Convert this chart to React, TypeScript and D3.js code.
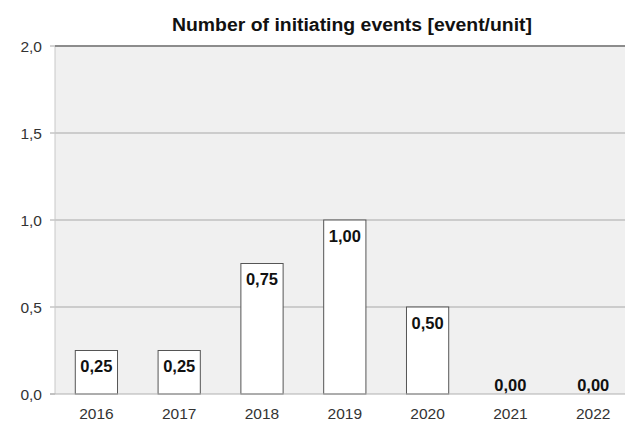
import React from "react";
import * as d3 from "d3";

const categories = ["2016", "2017", "2018", "2019", "2020", "2021", "2022"];
const values = [0.25, 0.25, 0.75, 1.0, 0.5, 0.0, 0.0];
const yTicks = [0, 0.5, 1.0, 1.5, 2.0];
const title = "Number of initiating events [event/unit]";

const W = 625;
const H = 421;
const M = { left: 55, top: 46, bottom: 394, right: 634.6 };

const fmt = (v: number, d: number) => v.toFixed(d).replace(".", ",");

export default function App() {
  const x = d3
    .scaleBand<string>()
    .domain(categories)
    .range([M.left, M.right])
    .paddingInner(0.49)
    .paddingOuter(0.245);
  const y = d3.scaleLinear().domain([0, 2]).range([M.bottom, M.top]);
  const font = "'Liberation Sans', Arial, sans-serif";

  return (
    <svg
      width={W}
      height={H}
      style={{ position: "absolute", left: 0, top: 0, background: "#fff" }}
      fontFamily={font}
    >
      <rect x={M.left} y={M.top} width={M.right - M.left} height={M.bottom - M.top} fill="#f0f0f0" />
      {yTicks.map((t) => (
        <g key={t}>
          {t > 0 && t < 2 && (
            <line x1={M.left} x2={M.right} y1={y(t)} y2={y(t)} stroke="#a8a8a8" strokeWidth={1} />
          )}
          <line x1={M.left - 5} x2={M.left} y1={y(t)} y2={y(t)} stroke="#a8a8a8" strokeWidth={1} />
          <text
            x={42}
            y={y(t)}
            dy="0.36em"
            textAnchor="end"
            fontSize={15.5}
            fill="#333"
          >
            {fmt(t, 1)}
          </text>
        </g>
      ))}
      <line x1={M.left} x2={M.left} y1={M.top} y2={M.bottom} stroke="#c8c8c8" strokeWidth={1} />
      <line x1={M.left} x2={M.right} y1={y(2)} y2={y(2)} stroke="#8c8c8c" strokeWidth={2} />
      {categories.map((c, i) => {
        const v = values[i];
        const bx = x(c)!;
        const bw = x.bandwidth();
        const cx = bx + bw / 2;
        return (
          <g key={c}>
            {v > 0 && (
              <rect
                x={bx}
                y={y(v)}
                width={bw}
                height={y(0) - y(v)}
                fill="#fff"
                stroke="#555"
                strokeWidth={1}
              />
            )}
            <text
              x={cx}
              y={v > 0 ? y(v) + 21.5 : y(0) - 3.5}
              textAnchor="middle"
              fontSize={16.5}
              fontWeight="bold"
              fill="#111"
            >
              {fmt(v, 2)}
            </text>
            <text x={cx} y={419} textAnchor="middle" fontSize={15.5} fill="#333">
              {c}
            </text>
          </g>
        );
      })}
      <line x1={M.left - 5} x2={M.right} y1={y(0)} y2={y(0)} stroke="#b0b0b0" strokeWidth={1} />
      <text
        x={352}
        y={31}
        textAnchor="middle"
        fontSize={17.5}
        fontWeight="bold"
        fill="#111"
        textLength={360}
        lengthAdjust="spacingAndGlyphs"
      >
        {title}
      </text>
    </svg>
  );
}
